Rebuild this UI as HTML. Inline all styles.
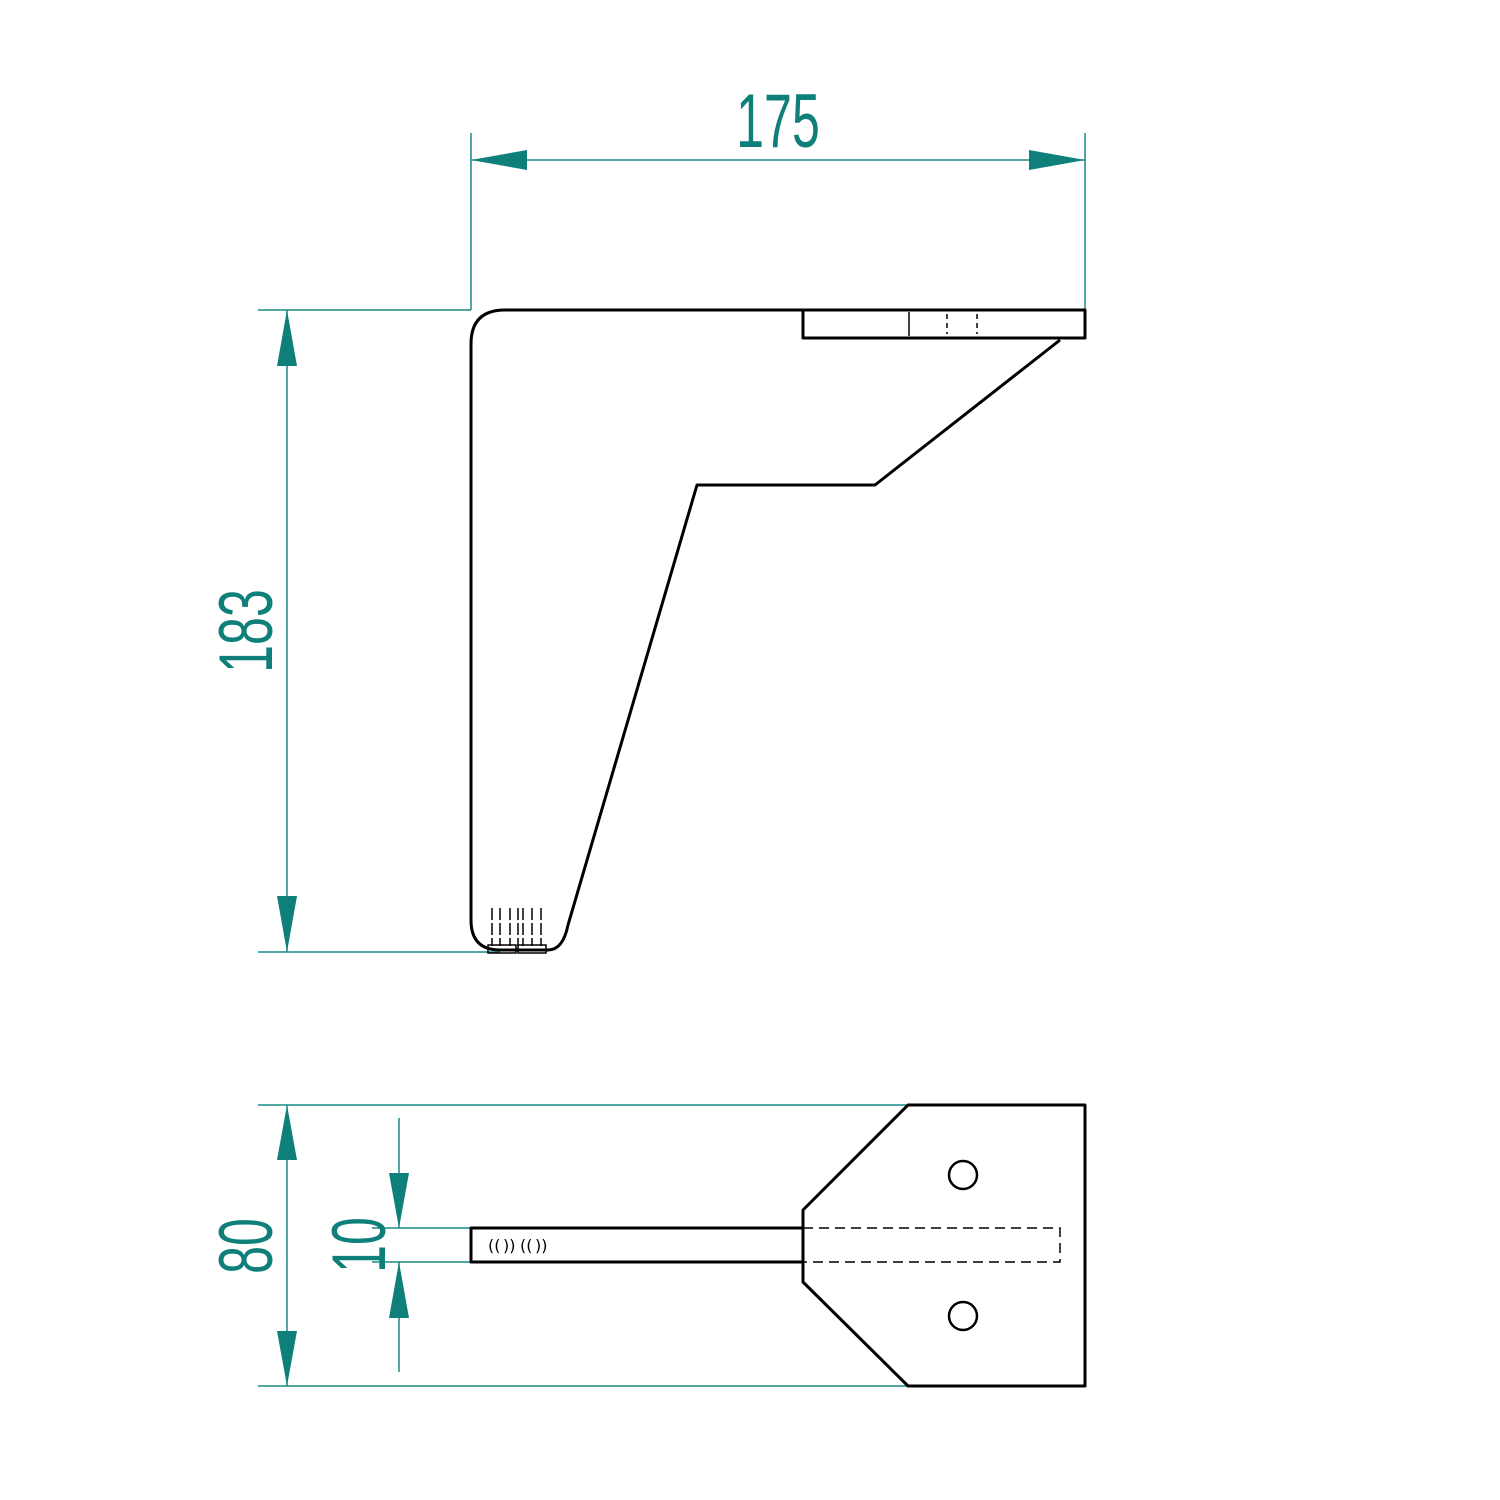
<!DOCTYPE html>
<html><head><meta charset="utf-8"><style>html,body{margin:0;padding:0;background:#fff}svg{display:block}</style></head>
<body>
<svg width="1500" height="1500" viewBox="0 0 1500 1500" xmlns="http://www.w3.org/2000/svg">
<rect width="1500" height="1500" fill="#fff"/>
<g stroke="#1a8a86" stroke-width="1.5" fill="none">
  <line x1="471" y1="133" x2="471" y2="310"/>
  <line x1="1085" y1="133" x2="1085" y2="310"/>
  <line x1="471" y1="160" x2="1085" y2="160"/>
  <line x1="258" y1="310" x2="471" y2="310"/>
  <line x1="258" y1="952" x2="500" y2="952"/>
  <line x1="287" y1="310" x2="287" y2="952"/>
  <line x1="258" y1="1105" x2="908" y2="1105"/>
  <line x1="258" y1="1386" x2="908" y2="1386"/>
  <line x1="287" y1="1105" x2="287" y2="1386"/>
  <line x1="372" y1="1228" x2="471" y2="1228"/>
  <line x1="372" y1="1262" x2="471" y2="1262"/>
  <line x1="399" y1="1118" x2="399" y2="1228"/>
  <line x1="399" y1="1262" x2="399" y2="1372"/>
</g>
<g fill="#0f7f7a">
  <polygon points="471,160 527,150 527,170"/>
  <polygon points="1085,160 1029,150 1029,170"/>
  <polygon points="287,310 277,366 297,366"/>
  <polygon points="287,952 277,896 297,896"/>
  <polygon points="287,1105 277,1160 297,1160"/>
  <polygon points="287,1386 277,1331 297,1331"/>
  <polygon points="399,1228 389,1173 409,1173"/>
  <polygon points="399,1262 389,1318 409,1318"/>
</g>
<g fill="#0f7f7a" font-family="Liberation Sans, sans-serif" font-size="76" text-anchor="middle">
  <text transform="translate(778,147) scale(0.66,1)">175</text>
  <text transform="translate(272,631) rotate(-90) scale(0.66,1)">183</text>
  <text transform="translate(272,1246) rotate(-90) scale(0.66,1)">80</text>
  <text transform="translate(385,1245) rotate(-90) scale(0.66,1)">10</text>
</g>
<g stroke="#000" stroke-width="3" fill="none" stroke-linejoin="round">
  <path d="M803,310 L505,310 Q471,310 471,344 L471,920 Q471,950 500,950 L548,950 Q563,950 568,925 L697,485 L875,485 L1060,340"/>
  <rect x="803" y="310" width="282" height="28"/>
  <polygon points="908,1105 1085,1105 1085,1386 908,1386 803,1282 803,1210"/>
  <rect x="471" y="1228" width="332" height="34"/>
  <circle cx="963" cy="1175" r="14" stroke-width="2.5"/>
  <circle cx="963" cy="1316" r="14" stroke-width="2.5"/>
</g>
<g stroke="#000" stroke-width="1.5" fill="none">
  <line x1="909" y1="312" x2="909" y2="336"/>
  <path d="M947,314 v20 M977,314 v20" stroke-dasharray="5,4"/>
  <path d="M803,1228 H1060 V1262 H803" stroke-dasharray="10,6"/>
  <path d="M492,908 v38 M500,908 v38 M510,908 v38 M518,908 v38 M523,908 v38 M532,908 v38 M541,908 v38" stroke-dasharray="12,3"/>
  <rect x="488" y="945" width="28" height="8"/>
  <rect x="518" y="945" width="28" height="8"/>
</g>
<g font-family="DejaVu Sans, sans-serif" font-size="16" fill="#000">
  <text x="488" y="1251">((</text><text x="503" y="1251">))</text>
  <text x="520" y="1251">((</text><text x="535" y="1251">))</text>
</g>
</svg>
</body></html>
